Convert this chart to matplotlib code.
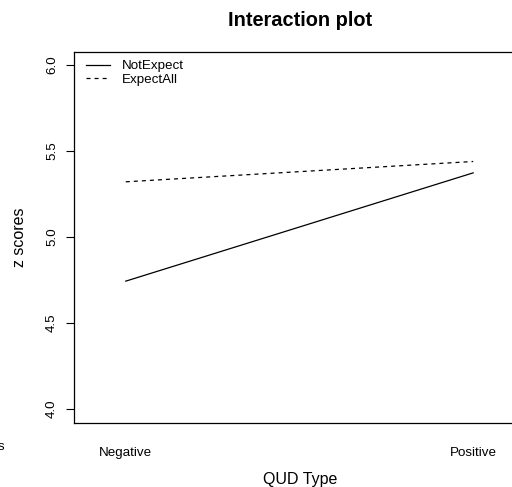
import matplotlib
matplotlib.use("Agg")
import matplotlib.pyplot as plt

plt.rcParams['font.family'] = ['Liberation Sans', 'DejaVu Sans']
plt.rcParams['lines.scale_dashes'] = False

categories = ["Negative", "Positive"]
series_names = ["NotExpect", "ExpectAll"]
not_expect = [4.744, 5.373]
expect_all = [5.321, 5.439]
yticks = [4.0, 4.5, 5.0, 5.5, 6.0]
ytick_labels = ["4.0", "4.5", "5.0", "5.5", "6.0"]

W, H = 512, 487
fig = plt.figure(figsize=(W / 100, H / 100), dpi=100)
ax = fig.add_axes([74 / W, 1 - 423 / H, 452 / W, 371 / H])

xpos = [1, 2]
ax.plot(xpos, not_expect, color='black', lw=0.9, linestyle='-', label=series_names[0])
ax.plot(xpos, expect_all, color='black', lw=0.9, linestyle=(0, (2.9, 2.9)), label=series_names[1])

ax.set_xlim(0.851, 2.152)
ax.set_ylim(3.92, 6.075)

ax.set_xticks(xpos)
ax.set_xticklabels(categories, fontsize=9.6)
ax.tick_params(axis='x', length=0, pad=17)
ax.set_yticks(yticks)
ax.set_yticklabels(ytick_labels, fontsize=9.6, rotation=90, va='center')
ax.tick_params(axis='y', length=5.5, width=0.8, pad=6)

for s in ax.spines.values():
    s.set_linewidth(0.9)
    s.set_color('black')

fig.text(300 / W, 1 - 484 / H, "QUD Type", fontsize=11.5, ha='center', va='baseline')
fig.text(19 / W, 1 - 237 / H, "z scores", fontsize=11.5, ha='center', va='center', rotation=90)
fig.text(300 / W, 1 - 26 / H, "Interaction plot", fontsize=14.4, fontweight='bold',
         ha='center', va='baseline')

leg = ax.legend(loc='upper left', frameon=False, fontsize=9.6, handlelength=1.8,
                handletextpad=0.88, borderaxespad=0.0, labelspacing=0.12,
                bbox_to_anchor=(6.7 / 452, 1 - 2.5 / 371))

fig.text(4 / W, 1 - 447 / H, "s", fontsize=9.6, ha='right', va='center')

fig.savefig("out.png", dpi=100)
